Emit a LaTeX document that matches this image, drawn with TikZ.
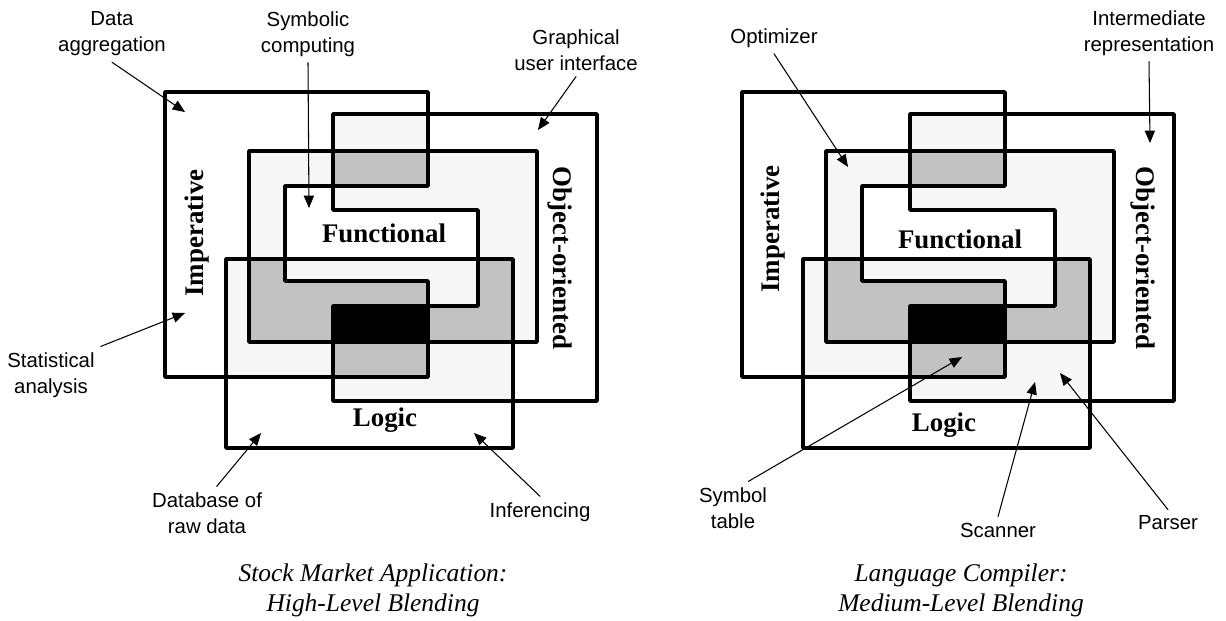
\documentclass[tikz,border=0pt]{standalone}
\usepackage{fontspec}
\setmainfont{Liberation Serif}
\setsansfont{Liberation Sans}
\usetikzlibrary{arrows}
\definecolor{twofill}{gray}{0.97}
\definecolor{threefill}{gray}{0.76}

% outlines of the four paradigms (left diagram, pixel units)
\newcommand{\impshape}{(165,92) -- (428,92) -- (428,186) -- (285,186) -- (285,281) -- (428,281) -- (428,377) -- (165,377) -- cycle}
\newcommand{\objshape}{(333,114) -- (597,114) -- (597,401) -- (333,401) -- (333,306) -- (478,306) -- (478,210) -- (333,210) -- cycle}
\newcommand{\funshape}{(249,151) rectangle (537,342)}
\newcommand{\logshape}{(226,259) rectangle (513,448)}

\begin{document}
\begin{tikzpicture}[line cap=round,line join=round,>=triangle 45,x=0.02cm,y=-0.02cm,
  paradigm/.style={line width=2.1pt},
  setname/.style={font=\fontsize{15.3}{18}\selectfont\bfseries},
  callout/.style={font=\fontsize{11.6}{14.7}\selectfont\sffamily,align=center},
  caption/.style={font=\fontsize{14.5}{17}\selectfont\itshape,align=center},
  pointer/.style={->,line width=0.6pt}]
\useasboundingbox (0,0) rectangle (1226,620);

\foreach \dx in {0,577}
{
\begin{scope}[shift={(\dx,0)}]
%two paradigms
\foreach \p/\q in {\impshape/\objshape,\impshape/\funshape,\impshape/\logshape,\objshape/\funshape,\objshape/\logshape,\funshape/\logshape}
{
\begin{scope}
\clip \p;
\fill[twofill] \q;
\end{scope}
}
%three paradigms
\foreach \p/\q/\r in {\impshape/\objshape/\funshape,\impshape/\objshape/\logshape,\impshape/\funshape/\logshape,\objshape/\funshape/\logshape}
{
\begin{scope}
\clip \p;
\clip \q;
\fill[threefill] \r;
\end{scope}
}
%all four
\begin{scope}
\clip \impshape;
\clip \objshape;
\clip \funshape;
\fill[black] \logshape;
\end{scope}
\draw[paradigm] \impshape;
\draw[paradigm] \objshape;
\draw[paradigm] \funshape;
\draw[paradigm] \logshape;
\end{scope}
}

%paradigm names
\node[setname,rotate=90] (impL) at (197,233) {Imperative};
\node[setname] (funL) at (384,233) {Functional};
\node[setname,rotate=-90] (objL) at (560,258) {Object-oriented};
\node[setname] (logL) at (385,420) {Logic};
\node[setname,rotate=90] (impR) at (773,229) {Imperative};
\node[setname] (funR) at (960,239) {Functional};
\node[setname,rotate=-90] (objR) at (1143,258) {Object-oriented};
\node[setname] (logR) at (944,425) {Logic};

%stock market callouts
\node[callout] (dataagg) at (112,34) {Data\\aggregation};
\node[callout] (symcomp) at (308,34) {Symbolic\\computing};
\node[callout] (gui) at (576,50) {Graphical\\user interface};
\node[callout] (stat) at (51,375) {Statistical\\analysis};
\node[callout] (dbraw) at (207,513) {Database of\\raw data};
\node[callout] (infer) at (540,512) {Inferencing};
\coordinate (dataaggtip) at (185,112);
\coordinate (symcomptip) at (309,208);
\coordinate (guitip) at (538,130);
\coordinate (stattip) at (185,313);
\coordinate (dbrawtip) at (261,433);
\coordinate (infertip) at (474,433);
\draw[pointer] (dataagg.south) -- (dataaggtip);
\draw[pointer] (symcomp.south) -- (symcomptip);
\draw[pointer] (gui.south) -- (guitip);
\draw[pointer] (stat.north east) -- (stattip);
\draw[pointer] (dbraw.70) -- (dbrawtip);
\draw[pointer] (infer.north) -- (infertip);

%compiler callouts
\node[callout] (optim) at (774,38) {Optimizer};
\node[callout] (interrep) at (1149,33) {Intermediate\\representation};
\node[callout] (symtab) at (733,508) {Symbol\\table};
\node[callout] (scanner) at (998,530) {Scanner};
\node[callout] (parser) at (1168,523) {Parser};
\coordinate (optimtip) at (848,167);
\coordinate (interreptip) at (1150,143);
\coordinate (symtabtip) at (962,357);
\coordinate (scannertip) at (1035,382);
\coordinate (parsertip) at (1060,373);
\draw[pointer] (optim.south) -- (optimtip);
\draw[pointer] (interrep.south) -- (interreptip);
\draw[pointer] (symtab.60) -- (symtabtip);
\draw[pointer] (scanner.north) -- (scannertip);
\draw[pointer] (parser.north) -- (parsertip);

%captions
\node[caption] (capL) at (373,590) {Stock Market Application:\\High-Level Blending};
\node[caption] (capR) at (961,590) {Language Compiler:\\Medium-Level Blending};
\end{tikzpicture}
\end{document}
